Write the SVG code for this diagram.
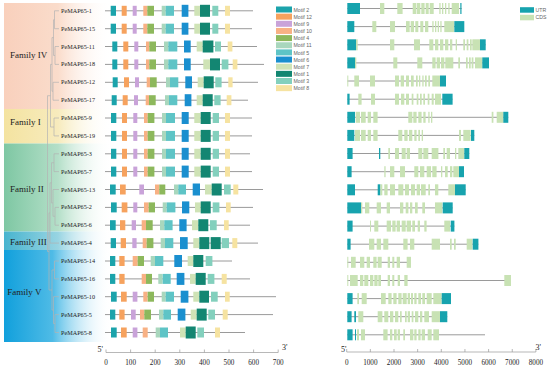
<svg xmlns="http://www.w3.org/2000/svg" width="550" height="373" viewBox="0 0 550 373">
<style>
.m1{fill:#138672}.m2{fill:#1ba3ab}.m3{fill:#83d0bd}.m4{fill:#8db85c}.m5{fill:#5ec4c6}.m6{fill:#1a8fcf}
.m7{fill:#cfe3b6}.m8{fill:#f6e3a1}.m9{fill:#c9a3d9}.m10{fill:#f8b184}.m11{fill:#a9d7bd}.m12{fill:#f6a25e}
.U{fill:#17a3ae}.C{fill:#c8e2b4}
.bb{stroke:#9a9a9a;stroke-width:1;fill:none}
.tree{stroke:#b3b3b3;stroke-width:0.7;fill:none}
.fam{font-family:"Liberation Serif","Times New Roman",serif;font-size:9px;fill:#222}
.gl{font-family:"Liberation Serif","Times New Roman",serif;font-size:6.2px;fill:#222}
.lg{font-family:"Liberation Sans",Arial,sans-serif;font-size:5.2px;fill:#666}
.ax{font-family:"Liberation Serif","Times New Roman",serif;font-size:7.2px;fill:#222;text-anchor:middle}
.pr{font-family:"Liberation Serif","Times New Roman",serif;font-size:8px;fill:#222}
.axl{stroke:#999;stroke-width:0.7;fill:none}
</style>
<defs>
<linearGradient id="gIV" gradientUnits="userSpaceOnUse" x1="4" y1="0" x2="112" y2="0"><stop offset="0" stop-color="#f9d0bc"/><stop offset="0.5" stop-color="#fadccb"/><stop offset="1" stop-color="#ffffff" stop-opacity="0"/></linearGradient>
<linearGradient id="gI" gradientUnits="userSpaceOnUse" x1="4" y1="0" x2="112" y2="0"><stop offset="0" stop-color="#f4e3a0"/><stop offset="0.5" stop-color="#f7ebbd"/><stop offset="1" stop-color="#ffffff" stop-opacity="0"/></linearGradient>
<linearGradient id="gII" gradientUnits="userSpaceOnUse" x1="4" y1="0" x2="112" y2="0"><stop offset="0" stop-color="#7ec7a3"/><stop offset="0.5" stop-color="#b4dfc8"/><stop offset="1" stop-color="#ffffff" stop-opacity="0"/></linearGradient>
<linearGradient id="gIII" gradientUnits="userSpaceOnUse" x1="4" y1="0" x2="112" y2="0"><stop offset="0" stop-color="#47b4cf"/><stop offset="0.5" stop-color="#98d4e2"/><stop offset="1" stop-color="#ffffff" stop-opacity="0"/></linearGradient>
<linearGradient id="gV" gradientUnits="userSpaceOnUse" x1="4" y1="0" x2="112" y2="0"><stop offset="0" stop-color="#11a0dc"/><stop offset="0.45" stop-color="#4fbbe6"/><stop offset="1" stop-color="#ffffff" stop-opacity="0"/></linearGradient>
</defs>
<rect width="550" height="373" fill="#ffffff"/>

<g id="family-IV"><rect x="4" y="3" width="108" height="106" fill="url(#gIV)"/><text class="fam" x="10" y="58.2">Family IV</text></g>
<g id="family-I"><rect x="4" y="109" width="108" height="34.5" fill="url(#gI)"/><text class="fam" x="10" y="125">Family I</text></g>
<g id="family-II"><rect x="4" y="143.5" width="108" height="88" fill="url(#gII)"/><text class="fam" x="10" y="191.5">Family II</text></g>
<g id="family-III"><rect x="4" y="231.5" width="108" height="18.5" fill="url(#gIII)"/><text class="fam" x="10" y="245">Family III</text></g>
<g id="family-V"><rect x="4" y="250" width="108" height="92" fill="url(#gV)"/><text class="fam" x="7.3" y="295">Family V</text></g>

<g id="connectors">
<path class="tree" d="M54.5 10.8H59M54.5 28.7H59M54.5 10.8V28.7M55 46.5H59M55 64.4H59M55 46.5V64.4M53.5 19.75H54.5M53.5 55.45H55M53.5 19.75V55.45M53 82.3H59M53 100.2H59M53 82.3V100.2M52 37.6H53.5M52 91.25H53M52 37.6V91.25M54 118H59M54 135.9H59M54 118V135.9M50.5 64.4H52M50.5 127H54M50.5 64.4V127M54 153.8H59M54 171.6H59M54 153.8V171.6M55 207.4H59M55 225.2H59M55 207.4V225.2M53 189.5H59M53 216.3H55M53 189.5V216.3M51.5 162.7H54M51.5 202.9H53M51.5 162.7V202.9M50 182.8H51.5M50 243.1H59M50 182.8V243.1M54.5 261H59M54.5 278.9H59M54.5 261V278.9M55 314.6H59M55 332.5H59M55 314.6V332.5M53.5 296.7H59M53.5 323.55H55M53.5 296.7V323.55M52 269.95H54.5M52 310.1H53.5M52 269.95V310.1M49 212.95H50M49 290H52M49 212.95V290M47.5 95.7H50.5M47.5 251.5H49M47.5 95.7V251.5"/>
</g>

<g id="motif-legend">
<rect class="m2" x="276" y="6.5" width="16" height="6"/><text class="lg" x="293.5" y="11.7">Motif 2</text>
<rect class="m12" x="276" y="13.65" width="16" height="6"/><text class="lg" x="293.5" y="18.85">Motif 12</text>
<rect class="m9" x="276" y="20.8" width="16" height="6"/><text class="lg" x="293.5" y="26">Motif 9</text>
<rect class="m10" x="276" y="27.95" width="16" height="6"/><text class="lg" x="293.5" y="33.15">Motif 10</text>
<rect class="m4" x="276" y="35.1" width="16" height="6"/><text class="lg" x="293.5" y="40.3">Motif 4</text>
<rect class="m11" x="276" y="42.25" width="16" height="6"/><text class="lg" x="293.5" y="47.45">Motif 11</text>
<rect class="m5" x="276" y="49.4" width="16" height="6"/><text class="lg" x="293.5" y="54.6">Motif 5</text>
<rect class="m6" x="276" y="56.55" width="16" height="6"/><text class="lg" x="293.5" y="61.75">Motif 6</text>
<rect class="m7" x="276" y="63.7" width="16" height="6"/><text class="lg" x="293.5" y="68.9">Motif 7</text>
<rect class="m1" x="276" y="70.85" width="16" height="6"/><text class="lg" x="293.5" y="76.05">Motif 1</text>
<rect class="m3" x="276" y="78" width="16" height="6"/><text class="lg" x="293.5" y="83.2">Motif 3</text>
<rect class="m8" x="276" y="85.15" width="16" height="6"/><text class="lg" x="293.5" y="90.35">Motif 8</text>
</g>
<g id="structure-legend">
<rect class="U" x="520" y="7.2" width="14" height="5.5"/><text class="lg" x="535.5" y="11.8">UTR</text>
<rect class="C" x="520" y="14.8" width="14" height="5.5"/><text class="lg" x="535.5" y="19.4">CDS</text>
</g>

<g id="gene-PeMAP65-1"><text class="gl" x="61" y="12.8">PeMAP65-1</text>
<g transform="translate(0,10.8)"><line class="bb" x1="105" y1="0" x2="253" y2="0"/>
<rect class="m2" x="110.7" y="-5" width="5.3" height="10"/><rect class="m12" x="121.7" y="-5" width="5" height="10"/><rect class="m9" x="132.7" y="-5" width="4" height="10"/><rect class="m10" x="143.3" y="-5" width="4" height="10"/><rect class="m4" x="147.3" y="-5" width="6.7" height="10"/><rect class="m11" x="161.7" y="-5" width="4" height="10"/><rect class="m5" x="165.7" y="-5" width="8.3" height="10"/><rect class="m6" x="181.7" y="-6" width="6.7" height="12"/><rect class="m7" x="194.3" y="-5" width="5.7" height="10"/><rect class="m1" x="200" y="-6" width="10" height="12"/><rect class="m3" x="212.3" y="-5" width="6" height="10"/><rect class="m8" x="225" y="-5" width="5" height="10"/></g>
<g transform="translate(0,8.5)"><line class="bb" x1="347.3" y1="0" x2="461.7" y2="0"/>
<rect class="U" x="347.3" y="-5.5" width="12.7" height="11"/><rect class="C" x="380" y="-5.5" width="4.3" height="11"/><rect class="C" x="397.3" y="-5.5" width="5.3" height="11"/><rect class="C" x="412.7" y="-5.5" width="3.7" height="11"/><rect class="C" x="417" y="-5.5" width="3.3" height="11"/><rect class="C" x="421.3" y="-5.5" width="3.3" height="11"/><rect class="C" x="425.7" y="-5.5" width="3" height="11"/><rect class="C" x="429.7" y="-5.5" width="4" height="11"/><rect class="C" x="439.3" y="-5.5" width="1.3" height="11"/><rect class="C" x="442" y="-5.5" width="1.3" height="11"/><rect class="C" x="445" y="-5.5" width="1.3" height="11"/><rect class="C" x="448.3" y="-5.5" width="1.3" height="11"/><rect class="C" x="451.7" y="-5.5" width="7.3" height="11"/><rect class="U" x="460.3" y="-5.5" width="1.2" height="11"/></g></g>

<g id="gene-PeMAP65-15"><text class="gl" x="61" y="30.7">PeMAP65-15</text>
<g transform="translate(0,28.7)"><line class="bb" x1="105" y1="0" x2="252" y2="0"/>
<rect class="m2" x="110.7" y="-5" width="5.3" height="10"/><rect class="m12" x="121.7" y="-5" width="5" height="10"/><rect class="m9" x="132.7" y="-5" width="4" height="10"/><rect class="m10" x="143.3" y="-5" width="4" height="10"/><rect class="m4" x="147.3" y="-5" width="6.7" height="10"/><rect class="m11" x="161.7" y="-5" width="4" height="10"/><rect class="m5" x="165.7" y="-5" width="8.3" height="10"/><rect class="m6" x="181.7" y="-6" width="6.7" height="12"/><rect class="m7" x="194.3" y="-5" width="5.7" height="10"/><rect class="m1" x="200" y="-6" width="10" height="12"/><rect class="m3" x="212.3" y="-5" width="6" height="10"/><rect class="m8" x="225" y="-5" width="5" height="10"/></g>
<g transform="translate(0,26.6)"><line class="bb" x1="347.3" y1="0" x2="464" y2="0"/>
<rect class="U" x="347.3" y="-5.5" width="7" height="11"/><rect class="C" x="372.3" y="-5.5" width="4" height="11"/><rect class="C" x="390" y="-5.5" width="5" height="11"/><rect class="C" x="406" y="-5.5" width="3.7" height="11"/><rect class="C" x="410.7" y="-5.5" width="3.3" height="11"/><rect class="C" x="415.3" y="-5.5" width="3" height="11"/><rect class="C" x="420.3" y="-5.5" width="3" height="11"/><rect class="C" x="425" y="-5.5" width="3.3" height="11"/><rect class="C" x="432.3" y="-5.5" width="1.3" height="11"/><rect class="C" x="435" y="-5.5" width="1.3" height="11"/><rect class="C" x="437.7" y="-5.5" width="1.3" height="11"/><rect class="C" x="440.3" y="-5.5" width="1.3" height="11"/><rect class="C" x="444.3" y="-5.5" width="9.7" height="11"/><rect class="U" x="454.3" y="-5.5" width="10" height="11"/></g></g>

<g id="gene-PeMAP65-11"><text class="gl" x="61" y="48.5">PeMAP65-11</text>
<g transform="translate(0,46.5)"><line class="bb" x1="105" y1="0" x2="257" y2="0"/>
<rect class="m2" x="112.3" y="-5" width="5" height="10"/><rect class="m12" x="123.3" y="-5" width="5" height="10"/><rect class="m9" x="134.3" y="-5" width="4" height="10"/><rect class="m10" x="146" y="-5" width="3.3" height="10"/><rect class="m4" x="149.3" y="-5" width="6.7" height="10"/><rect class="m11" x="164" y="-5" width="4.3" height="10"/><rect class="m5" x="168.3" y="-5" width="9" height="10"/><rect class="m6" x="184" y="-6" width="6.7" height="12"/><rect class="m7" x="196.7" y="-5" width="6" height="10"/><rect class="m1" x="202.7" y="-6" width="10.7" height="12"/><rect class="m3" x="215" y="-5" width="6" height="10"/><rect class="m8" x="227.7" y="-5" width="4.7" height="10"/></g>
<g transform="translate(0,44.8)"><line class="bb" x1="347.3" y1="0" x2="485.7" y2="0"/>
<rect class="U" x="347.3" y="-5.5" width="8.7" height="11"/><rect class="C" x="356" y="-5.5" width="1.7" height="11"/><rect class="C" x="390" y="-5.5" width="4.3" height="11"/><rect class="C" x="414" y="-5.5" width="6" height="11"/><rect class="C" x="429.3" y="-5.5" width="4" height="11"/><rect class="C" x="435" y="-5.5" width="3.3" height="11"/><rect class="C" x="440" y="-5.5" width="3.3" height="11"/><rect class="C" x="445" y="-5.5" width="3.3" height="11"/><rect class="C" x="450" y="-5.5" width="2.3" height="11"/><rect class="C" x="455.7" y="-5.5" width="1.3" height="11"/><rect class="C" x="463.3" y="-5.5" width="1.7" height="11"/><rect class="C" x="466.7" y="-5.5" width="1.7" height="11"/><rect class="C" x="470" y="-5.5" width="1.7" height="11"/><rect class="C" x="472.3" y="-5.5" width="7.7" height="11"/><rect class="U" x="480" y="-5.5" width="5.7" height="11"/></g></g>

<g id="gene-PeMAP65-18"><text class="gl" x="61" y="66.4">PeMAP65-18</text>
<g transform="translate(0,64.4)"><line class="bb" x1="105" y1="0" x2="264" y2="0"/>
<rect class="m2" x="112.3" y="-5" width="5" height="10"/><rect class="m12" x="123.3" y="-5" width="5" height="10"/><rect class="m9" x="134.3" y="-5" width="4" height="10"/><rect class="m10" x="146" y="-5" width="3.3" height="10"/><rect class="m4" x="149.3" y="-5" width="6.7" height="10"/><rect class="m11" x="164" y="-5" width="4.3" height="10"/><rect class="m5" x="168.3" y="-5" width="9" height="10"/><rect class="m6" x="184" y="-6" width="6.7" height="12"/><rect class="m7" x="203.3" y="-5" width="6.7" height="10"/><rect class="m1" x="210" y="-6" width="10" height="12"/><rect class="m3" x="221.7" y="-5" width="6.7" height="10"/><rect class="m8" x="232.7" y="-5" width="4.7" height="10"/></g>
<g transform="translate(0,62.9)"><line class="bb" x1="347.3" y1="0" x2="489" y2="0"/>
<rect class="U" x="347.3" y="-5.5" width="7.7" height="11"/><rect class="C" x="355" y="-5.5" width="1.3" height="11"/><rect class="C" x="393.3" y="-5.5" width="4" height="11"/><rect class="C" x="417.3" y="-5.5" width="5" height="11"/><rect class="C" x="432.3" y="-5.5" width="3.3" height="11"/><rect class="C" x="436.7" y="-5.5" width="3.3" height="11"/><rect class="C" x="441" y="-5.5" width="3.3" height="11"/><rect class="C" x="445.3" y="-5.5" width="8" height="11"/><rect class="C" x="458.3" y="-5.5" width="1.7" height="11"/><rect class="C" x="466" y="-5.5" width="1.7" height="11"/><rect class="C" x="469" y="-5.5" width="1.7" height="11"/><rect class="C" x="471.7" y="-5.5" width="1.7" height="11"/><rect class="C" x="475" y="-5.5" width="7.3" height="11"/><rect class="U" x="482.3" y="-5.5" width="6.7" height="11"/></g></g>

<g id="gene-PeMAP65-12"><text class="gl" x="61" y="84.3">PeMAP65-12</text>
<g transform="translate(0,82.3)"><line class="bb" x1="105" y1="0" x2="258" y2="0"/>
<rect class="m2" x="112.7" y="-5" width="5" height="10"/><rect class="m12" x="124" y="-5" width="5" height="10"/><rect class="m9" x="135" y="-5" width="4" height="10"/><rect class="m10" x="146.7" y="-5" width="3.3" height="10"/><rect class="m4" x="150" y="-5" width="6.7" height="10"/><rect class="m11" x="166" y="-5" width="4" height="10"/><rect class="m5" x="170" y="-5" width="8.3" height="10"/><rect class="m6" x="185.3" y="-6" width="6.7" height="12"/><rect class="m7" x="197.7" y="-5" width="6" height="10"/><rect class="m1" x="203.7" y="-6" width="10" height="12"/><rect class="m3" x="215.3" y="-5" width="6.3" height="10"/><rect class="m8" x="228.3" y="-5" width="4.3" height="10"/></g>
<g transform="translate(0,81)"><line class="bb" x1="347.3" y1="0" x2="446" y2="0"/>
<rect class="C" x="347.3" y="-5.5" width="1" height="11"/><rect class="C" x="354.3" y="-5.5" width="4.7" height="11"/><rect class="C" x="370" y="-5.5" width="5" height="11"/><rect class="C" x="395" y="-5.5" width="4" height="11"/><rect class="C" x="400.7" y="-5.5" width="3.3" height="11"/><rect class="C" x="406" y="-5.5" width="3" height="11"/><rect class="C" x="411" y="-5.5" width="2.7" height="11"/><rect class="C" x="416" y="-5.5" width="1.7" height="11"/><rect class="C" x="419" y="-5.5" width="1.3" height="11"/><rect class="C" x="422.3" y="-5.5" width="1.3" height="11"/><rect class="C" x="425" y="-5.5" width="1.7" height="11"/><rect class="C" x="428.3" y="-5.5" width="1.7" height="11"/><rect class="C" x="432.3" y="-5.5" width="7.7" height="11"/><rect class="U" x="440" y="-5.5" width="6" height="11"/></g></g>

<g id="gene-PeMAP65-17"><text class="gl" x="61" y="102.2">PeMAP65-17</text>
<g transform="translate(0,100.2)"><line class="bb" x1="105" y1="0" x2="248" y2="0"/>
<rect class="m2" x="111.7" y="-5" width="5" height="10"/><rect class="m12" x="122.7" y="-5" width="5" height="10"/><rect class="m9" x="134" y="-5" width="4" height="10"/><rect class="m10" x="145.7" y="-5" width="3.3" height="10"/><rect class="m4" x="149" y="-5" width="6.7" height="10"/><rect class="m11" x="165" y="-5" width="4" height="10"/><rect class="m5" x="169" y="-5" width="8.3" height="10"/><rect class="m6" x="184.7" y="-6" width="6.7" height="12"/><rect class="m7" x="196.7" y="-5" width="6" height="10"/><rect class="m1" x="202.7" y="-6" width="10" height="12"/><rect class="m3" x="214.3" y="-5" width="6.3" height="10"/><rect class="m8" x="226.7" y="-5" width="4.7" height="10"/></g>
<g transform="translate(0,99.2)"><line class="bb" x1="347.3" y1="0" x2="452.6" y2="0"/>
<rect class="U" x="347.3" y="-5.5" width="2.3" height="11"/><rect class="C" x="358.3" y="-5.5" width="3.3" height="11"/><rect class="C" x="371" y="-5.5" width="4" height="11"/><rect class="C" x="395" y="-5.5" width="4" height="11"/><rect class="C" x="401" y="-5.5" width="3.3" height="11"/><rect class="C" x="406" y="-5.5" width="3" height="11"/><rect class="C" x="411.7" y="-5.5" width="1.7" height="11"/><rect class="C" x="416.7" y="-5.5" width="1.7" height="11"/><rect class="C" x="420" y="-5.5" width="1.7" height="11"/><rect class="C" x="423.3" y="-5.5" width="1.7" height="11"/><rect class="C" x="427.7" y="-5.5" width="1.7" height="11"/><rect class="C" x="431.7" y="-5.5" width="2" height="11"/><rect class="C" x="435" y="-5.5" width="6" height="11"/><rect class="U" x="442.3" y="-5.5" width="10.3" height="11"/></g></g>

<g id="gene-PeMAP65-9"><text class="gl" x="61" y="120">PeMAP65-9</text>
<g transform="translate(0,118)"><line class="bb" x1="105" y1="0" x2="252" y2="0"/>
<rect class="m2" x="111" y="-5" width="5.3" height="10"/><rect class="m12" x="122" y="-5" width="5" height="10"/><rect class="m9" x="133.3" y="-5" width="4" height="10"/><rect class="m10" x="144" y="-5" width="3.7" height="10"/><rect class="m4" x="147.7" y="-5" width="6.7" height="10"/><rect class="m11" x="162" y="-5" width="4" height="10"/><rect class="m5" x="166" y="-5" width="9" height="10"/><rect class="m6" x="181.7" y="-6" width="7" height="12"/><rect class="m7" x="194.3" y="-5" width="6.3" height="10"/><rect class="m1" x="200.7" y="-6" width="10" height="12"/><rect class="m3" x="212.7" y="-5" width="6.3" height="10"/><rect class="m8" x="225" y="-5" width="5" height="10"/></g>
<g transform="translate(0,117.3)"><line class="bb" x1="347.3" y1="0" x2="508.3" y2="0"/>
<rect class="U" x="347.3" y="-5.5" width="7.7" height="11"/><rect class="C" x="355.7" y="-5.5" width="4.3" height="11"/><rect class="C" x="361" y="-5.5" width="4.7" height="11"/><rect class="C" x="367.7" y="-5.5" width="3.3" height="11"/><rect class="C" x="373.3" y="-5.5" width="4.3" height="11"/><rect class="C" x="408.3" y="-5.5" width="4" height="11"/><rect class="C" x="413.3" y="-5.5" width="3.3" height="11"/><rect class="C" x="418.3" y="-5.5" width="3.3" height="11"/><rect class="C" x="423.3" y="-5.5" width="2.3" height="11"/><rect class="C" x="428.3" y="-5.5" width="1.3" height="11"/><rect class="C" x="431" y="-5.5" width="1.3" height="11"/><rect class="C" x="491.7" y="-5.5" width="1.7" height="11"/><rect class="C" x="496.7" y="-5.5" width="6.7" height="11"/><rect class="U" x="503.3" y="-5.5" width="5" height="11"/></g></g>

<g id="gene-PeMAP65-19"><text class="gl" x="61" y="137.9">PeMAP65-19</text>
<g transform="translate(0,135.9)"><line class="bb" x1="105" y1="0" x2="252" y2="0"/>
<rect class="m2" x="111" y="-5" width="5.3" height="10"/><rect class="m12" x="122" y="-5" width="5" height="10"/><rect class="m9" x="133.3" y="-5" width="4" height="10"/><rect class="m10" x="144" y="-5" width="3.7" height="10"/><rect class="m4" x="147.7" y="-5" width="6.7" height="10"/><rect class="m11" x="162" y="-5" width="4" height="10"/><rect class="m5" x="166" y="-5" width="9" height="10"/><rect class="m6" x="181.7" y="-6" width="7" height="12"/><rect class="m7" x="194.3" y="-5" width="6.3" height="10"/><rect class="m1" x="200.7" y="-6" width="10" height="12"/><rect class="m3" x="212.7" y="-5" width="6.3" height="10"/><rect class="m8" x="225" y="-5" width="5" height="10"/></g>
<g transform="translate(0,135.4)"><line class="bb" x1="347.3" y1="0" x2="474.3" y2="0"/>
<rect class="U" x="347.3" y="-5.5" width="7" height="11"/><rect class="C" x="355" y="-5.5" width="5" height="11"/><rect class="C" x="361" y="-5.5" width="4.7" height="11"/><rect class="C" x="367.7" y="-5.5" width="3.3" height="11"/><rect class="C" x="373.3" y="-5.5" width="4.3" height="11"/><rect class="C" x="398.3" y="-5.5" width="4" height="11"/><rect class="C" x="404.3" y="-5.5" width="3.3" height="11"/><rect class="C" x="409" y="-5.5" width="3.3" height="11"/><rect class="C" x="414.3" y="-5.5" width="2.3" height="11"/><rect class="C" x="418.3" y="-5.5" width="1.7" height="11"/><rect class="C" x="421.7" y="-5.5" width="1.3" height="11"/><rect class="C" x="459" y="-5.5" width="2" height="11"/><rect class="C" x="463.3" y="-5.5" width="7.3" height="11"/><rect class="U" x="471" y="-5.5" width="3.3" height="11"/></g></g>

<g id="gene-PeMAP65-3"><text class="gl" x="61" y="155.8">PeMAP65-3</text>
<g transform="translate(0,153.8)"><line class="bb" x1="105" y1="0" x2="250" y2="0"/>
<rect class="m2" x="111" y="-5" width="5.3" height="10"/><rect class="m12" x="122" y="-5" width="5" height="10"/><rect class="m9" x="133.3" y="-5" width="4" height="10"/><rect class="m10" x="144" y="-5" width="3.7" height="10"/><rect class="m4" x="147.7" y="-5" width="6.7" height="10"/><rect class="m11" x="162" y="-5" width="4" height="10"/><rect class="m5" x="166" y="-5" width="9" height="10"/><rect class="m6" x="181.7" y="-6" width="7" height="12"/><rect class="m7" x="194.3" y="-5" width="6.3" height="10"/><rect class="m1" x="200.7" y="-6" width="10" height="12"/><rect class="m3" x="212.7" y="-5" width="6.3" height="10"/><rect class="m8" x="225" y="-5" width="5" height="10"/></g>
<g transform="translate(0,153.5)"><line class="bb" x1="347.3" y1="0" x2="469.3" y2="0"/>
<rect class="U" x="347.3" y="-5.5" width="5.3" height="11"/><rect class="U" x="379" y="-5.5" width="1.3" height="11"/><rect class="C" x="388.3" y="-5.5" width="1.7" height="11"/><rect class="C" x="395" y="-5.5" width="4" height="11"/><rect class="C" x="401.7" y="-5.5" width="4" height="11"/><rect class="C" x="406.7" y="-5.5" width="3.3" height="11"/><rect class="C" x="418.3" y="-5.5" width="4" height="11"/><rect class="C" x="423.3" y="-5.5" width="5" height="11"/><rect class="C" x="431.7" y="-5.5" width="6.7" height="11"/><rect class="C" x="443.3" y="-5.5" width="1.7" height="11"/><rect class="C" x="446.7" y="-5.5" width="3.3" height="11"/><rect class="C" x="455" y="-5.5" width="1.3" height="11"/><rect class="C" x="458.3" y="-5.5" width="6" height="11"/><rect class="U" x="464.3" y="-5.5" width="5" height="11"/></g></g>

<g id="gene-PeMAP65-7"><text class="gl" x="61" y="173.6">PeMAP65-7</text>
<g transform="translate(0,171.6)"><line class="bb" x1="105" y1="0" x2="252" y2="0"/>
<rect class="m2" x="111" y="-5" width="5.3" height="10"/><rect class="m12" x="122" y="-5" width="5" height="10"/><rect class="m9" x="133.3" y="-5" width="4" height="10"/><rect class="m10" x="144" y="-5" width="3.7" height="10"/><rect class="m4" x="147.7" y="-5" width="6.7" height="10"/><rect class="m11" x="162" y="-5" width="4" height="10"/><rect class="m5" x="166" y="-5" width="9" height="10"/><rect class="m6" x="181.7" y="-6" width="7" height="12"/><rect class="m7" x="194.3" y="-5" width="6.3" height="10"/><rect class="m1" x="200.7" y="-6" width="10" height="12"/><rect class="m3" x="212.7" y="-5" width="6.3" height="10"/><rect class="m8" x="225" y="-5" width="5" height="10"/></g>
<g transform="translate(0,171.7)"><line class="bb" x1="347.3" y1="0" x2="464" y2="0"/>
<rect class="U" x="347.3" y="-5.5" width="4.3" height="11"/><rect class="C" x="384.3" y="-5.5" width="1.3" height="11"/><rect class="C" x="390" y="-5.5" width="4.3" height="11"/><rect class="C" x="400" y="-5.5" width="5" height="11"/><rect class="C" x="414.3" y="-5.5" width="4" height="11"/><rect class="C" x="420" y="-5.5" width="4.3" height="11"/><rect class="C" x="426.7" y="-5.5" width="4.3" height="11"/><rect class="C" x="432.3" y="-5.5" width="4.3" height="11"/><rect class="C" x="441" y="-5.5" width="1.3" height="11"/><rect class="C" x="445" y="-5.5" width="2.7" height="11"/><rect class="C" x="450" y="-5.5" width="2.3" height="11"/><rect class="C" x="453.3" y="-5.5" width="5.7" height="11"/><rect class="U" x="459" y="-5.5" width="5" height="11"/></g></g>

<g id="gene-PeMAP65-13"><text class="gl" x="61" y="191.5">PeMAP65-13</text>
<g transform="translate(0,189.5)"><line class="bb" x1="105" y1="0" x2="263" y2="0"/>
<rect class="m2" x="110" y="-5" width="5.7" height="10"/><rect class="m12" x="120" y="-5" width="5.7" height="10"/><rect class="m9" x="139.3" y="-5" width="4.7" height="10"/><rect class="m10" x="155" y="-5" width="4.3" height="10"/><rect class="m4" x="159.3" y="-5" width="6" height="10"/><rect class="m11" x="174" y="-5" width="4.3" height="10"/><rect class="m5" x="178.3" y="-5" width="7.7" height="10"/><rect class="m6" x="192.7" y="-6" width="7.3" height="12"/><rect class="m7" x="205" y="-5" width="6.7" height="10"/><rect class="m1" x="211.7" y="-6" width="10" height="12"/><rect class="m3" x="224" y="-5" width="6.7" height="10"/><rect class="m8" x="233.3" y="-5" width="5" height="10"/></g>
<g transform="translate(0,189.8)"><line class="bb" x1="347.3" y1="0" x2="465.7" y2="0"/>
<rect class="U" x="347.3" y="-5.5" width="7.7" height="11"/><rect class="U" x="377.7" y="-5.5" width="2.7" height="11"/><rect class="C" x="380.3" y="-5.5" width="2" height="11"/><rect class="C" x="384.3" y="-5.5" width="3.3" height="11"/><rect class="C" x="390" y="-5.5" width="5" height="11"/><rect class="C" x="398.3" y="-5.5" width="5" height="11"/><rect class="C" x="405" y="-5.5" width="4" height="11"/><rect class="C" x="411" y="-5.5" width="4" height="11"/><rect class="C" x="416.7" y="-5.5" width="3.3" height="11"/><rect class="C" x="421" y="-5.5" width="4.7" height="11"/><rect class="C" x="428.3" y="-5.5" width="1.7" height="11"/><rect class="C" x="435" y="-5.5" width="3.3" height="11"/><rect class="C" x="448.3" y="-5.5" width="6.7" height="11"/><rect class="U" x="455" y="-5.5" width="10.7" height="11"/></g></g>

<g id="gene-PeMAP65-2"><text class="gl" x="61" y="209.4">PeMAP65-2</text>
<g transform="translate(0,207.4)"><line class="bb" x1="105" y1="0" x2="253" y2="0"/>
<rect class="m2" x="111" y="-5" width="5.7" height="10"/><rect class="m12" x="121.7" y="-5" width="5.7" height="10"/><rect class="m9" x="133.3" y="-5" width="4" height="10"/><rect class="m10" x="144" y="-5" width="4.7" height="10"/><rect class="m4" x="148.7" y="-5" width="6.3" height="10"/><rect class="m11" x="162.7" y="-5" width="4" height="10"/><rect class="m5" x="166.7" y="-5" width="8.7" height="10"/><rect class="m6" x="182" y="-6" width="7.3" height="12"/><rect class="m7" x="195" y="-5" width="5.7" height="10"/><rect class="m1" x="200.7" y="-6" width="10" height="12"/><rect class="m3" x="212.7" y="-5" width="6.7" height="10"/><rect class="m8" x="226" y="-5" width="4.7" height="10"/></g>
<g transform="translate(0,207.9)"><line class="bb" x1="347.3" y1="0" x2="452.7" y2="0"/>
<rect class="U" x="347.3" y="-5.5" width="13.7" height="11"/><rect class="C" x="361" y="-5.5" width="1.3" height="11"/><rect class="C" x="365" y="-5.5" width="4.3" height="11"/><rect class="C" x="376.7" y="-5.5" width="4.3" height="11"/><rect class="C" x="386.7" y="-5.5" width="3.3" height="11"/><rect class="C" x="400" y="-5.5" width="3.3" height="11"/><rect class="C" x="405.7" y="-5.5" width="2.7" height="11"/><rect class="C" x="410" y="-5.5" width="2.3" height="11"/><rect class="C" x="415" y="-5.5" width="2.7" height="11"/><rect class="C" x="422.3" y="-5.5" width="2.7" height="11"/><rect class="C" x="435" y="-5.5" width="7.3" height="11"/><rect class="U" x="442.7" y="-5.5" width="10" height="11"/></g></g>

<g id="gene-PeMAP65-6"><text class="gl" x="61" y="227.2">PeMAP65-6</text>
<g transform="translate(0,225.2)"><line class="bb" x1="105" y1="0" x2="250" y2="0"/>
<rect class="m2" x="110" y="-5" width="5.7" height="10"/><rect class="m12" x="120" y="-5" width="5.3" height="10"/><rect class="m9" x="131.7" y="-5" width="4.3" height="10"/><rect class="m10" x="141.7" y="-5" width="4.3" height="10"/><rect class="m4" x="146" y="-5" width="6.7" height="10"/><rect class="m11" x="160" y="-5" width="4.3" height="10"/><rect class="m5" x="164.3" y="-5" width="8.3" height="10"/><rect class="m6" x="179.3" y="-6" width="7.3" height="12"/><rect class="m7" x="192" y="-5" width="6.3" height="10"/><rect class="m1" x="198.3" y="-6" width="10" height="12"/><rect class="m3" x="210" y="-5" width="6.7" height="10"/><rect class="m8" x="224" y="-5" width="4.7" height="10"/></g>
<g transform="translate(0,226.1)"><line class="bb" x1="347.3" y1="0" x2="454.4" y2="0"/>
<rect class="U" x="347.3" y="-5.5" width="5.3" height="11"/><rect class="C" x="370" y="-5.5" width="1" height="11"/><rect class="C" x="374.3" y="-5.5" width="4" height="11"/><rect class="C" x="386.7" y="-5.5" width="4.3" height="11"/><rect class="C" x="392.3" y="-5.5" width="3.3" height="11"/><rect class="C" x="396.7" y="-5.5" width="3.3" height="11"/><rect class="C" x="401.7" y="-5.5" width="4" height="11"/><rect class="C" x="406.7" y="-5.5" width="4.3" height="11"/><rect class="C" x="412.3" y="-5.5" width="2.7" height="11"/><rect class="C" x="417.7" y="-5.5" width="2.3" height="11"/><rect class="C" x="424.3" y="-5.5" width="2.3" height="11"/><rect class="C" x="444.3" y="-5.5" width="5.7" height="11"/><rect class="U" x="450.7" y="-5.5" width="3.7" height="11"/></g></g>

<g id="gene-PeMAP65-4"><text class="gl" x="61" y="245.1">PeMAP65-4</text>
<g transform="translate(0,243.1)"><line class="bb" x1="105" y1="0" x2="258" y2="0"/>
<rect class="m2" x="110.7" y="-5" width="5.3" height="10"/><rect class="m12" x="120.7" y="-5" width="5.3" height="10"/><rect class="m9" x="132.3" y="-5" width="4.3" height="10"/><rect class="m10" x="142.7" y="-5" width="4" height="10"/><rect class="m4" x="146.7" y="-5" width="6.7" height="10"/><rect class="m11" x="160.7" y="-5" width="4.3" height="10"/><rect class="m5" x="165" y="-5" width="8.3" height="10"/><rect class="m6" x="180" y="-6" width="7.7" height="12"/><rect class="m7" x="193.3" y="-5" width="6" height="10"/><rect class="m1" x="199.3" y="-6" width="10" height="12"/><rect class="m1" x="210.7" y="-6" width="10" height="12"/><rect class="m3" x="221.7" y="-5" width="7.3" height="10"/><rect class="m8" x="232.3" y="-5" width="5" height="10"/></g>
<g transform="translate(0,244.2)"><line class="bb" x1="347.3" y1="0" x2="478.4" y2="0"/>
<rect class="U" x="347.3" y="-5.5" width="3.3" height="11"/><rect class="C" x="369" y="-5.5" width="5.3" height="11"/><rect class="C" x="376.7" y="-5.5" width="4.3" height="11"/><rect class="C" x="383.3" y="-5.5" width="5" height="11"/><rect class="C" x="403.3" y="-5.5" width="4.3" height="11"/><rect class="C" x="410" y="-5.5" width="4.3" height="11"/><rect class="C" x="431.7" y="-5.5" width="8.3" height="11"/><rect class="C" x="450" y="-5.5" width="1.7" height="11"/><rect class="C" x="454" y="-5.5" width="1.7" height="11"/><rect class="C" x="466.7" y="-5.5" width="5.7" height="11"/><rect class="U" x="472.7" y="-5.5" width="5.7" height="11"/></g></g>

<g id="gene-PeMAP65-14"><text class="gl" x="61" y="263">PeMAP65-14</text>
<g transform="translate(0,261)"><line class="bb" x1="105" y1="0" x2="232" y2="0"/>
<rect class="m2" x="110" y="-5" width="5.3" height="10"/><rect class="m12" x="119.3" y="-5" width="5.3" height="10"/><rect class="m10" x="132.7" y="-5" width="5" height="10"/><rect class="m4" x="137.7" y="-5" width="6.3" height="10"/><rect class="m11" x="150.7" y="-5" width="4.3" height="10"/><rect class="m5" x="155" y="-5" width="8.3" height="10"/><rect class="m6" x="174.3" y="-6" width="7.7" height="12"/><rect class="m7" x="187.7" y="-5" width="5.7" height="10"/><rect class="m1" x="193.3" y="-6" width="10" height="12"/><rect class="m3" x="205.7" y="-5" width="6.7" height="10"/></g>
<g transform="translate(0,262.3)"><line class="bb" x1="347.3" y1="0" x2="411" y2="0"/>
<rect class="C" x="347.3" y="-5.5" width="1" height="11"/><rect class="C" x="351" y="-5.5" width="4.7" height="11"/><rect class="C" x="360" y="-5.5" width="4.3" height="11"/><rect class="C" x="366.7" y="-5.5" width="3.3" height="11"/><rect class="C" x="373.3" y="-5.5" width="3.3" height="11"/><rect class="C" x="377.7" y="-5.5" width="4" height="11"/><rect class="C" x="387.7" y="-5.5" width="2.3" height="11"/><rect class="C" x="392.3" y="-5.5" width="2" height="11"/><rect class="C" x="396.7" y="-5.5" width="3.3" height="11"/><rect class="C" x="406.7" y="-5.5" width="4.3" height="11"/></g></g>

<g id="gene-PeMAP65-16"><text class="gl" x="61" y="280.9">PeMAP65-16</text>
<g transform="translate(0,278.9)"><line class="bb" x1="105" y1="0" x2="250" y2="0"/>
<rect class="m2" x="110" y="-5" width="5.3" height="10"/><rect class="m12" x="119.3" y="-5" width="5.3" height="10"/><rect class="m10" x="141.7" y="-5" width="4.3" height="10"/><rect class="m4" x="146" y="-5" width="6" height="10"/><rect class="m11" x="158.3" y="-5" width="4.3" height="10"/><rect class="m5" x="162.7" y="-5" width="8" height="10"/><rect class="m6" x="176.7" y="-6" width="7.7" height="12"/><rect class="m7" x="190" y="-5" width="5.7" height="10"/><rect class="m1" x="195.7" y="-6" width="10" height="12"/><rect class="m3" x="207.7" y="-5" width="6.7" height="10"/><rect class="m8" x="221.7" y="-5" width="5" height="10"/></g>
<g transform="translate(0,280.5)"><line class="bb" x1="347.3" y1="0" x2="511" y2="0"/>
<rect class="C" x="347.3" y="-5.5" width="1" height="11"/><rect class="C" x="350" y="-5.5" width="7.7" height="11"/><rect class="C" x="360" y="-5.5" width="3.3" height="11"/><rect class="C" x="364.3" y="-5.5" width="4" height="11"/><rect class="C" x="370" y="-5.5" width="3.3" height="11"/><rect class="C" x="374.3" y="-5.5" width="3.3" height="11"/><rect class="C" x="378.3" y="-5.5" width="2.7" height="11"/><rect class="C" x="387.7" y="-5.5" width="2.3" height="11"/><rect class="C" x="392.3" y="-5.5" width="2" height="11"/><rect class="C" x="397.7" y="-5.5" width="2.3" height="11"/><rect class="C" x="404.3" y="-5.5" width="3.3" height="11"/><rect class="C" x="504.3" y="-5.5" width="6.7" height="11"/></g></g>

<g id="gene-PeMAP65-10"><text class="gl" x="61" y="298.7">PeMAP65-10</text>
<g transform="translate(0,296.7)"><line class="bb" x1="105" y1="0" x2="276" y2="0"/>
<rect class="m2" x="111" y="-5" width="5.7" height="10"/><rect class="m12" x="121" y="-5" width="5.7" height="10"/><rect class="m9" x="132.7" y="-5" width="4.7" height="10"/><rect class="m10" x="143.3" y="-5" width="4.3" height="10"/><rect class="m4" x="147.7" y="-5" width="6.3" height="10"/><rect class="m11" x="161.7" y="-5" width="4" height="10"/><rect class="m5" x="165.7" y="-5" width="8.3" height="10"/><rect class="m6" x="180.7" y="-6" width="7.7" height="12"/><rect class="m7" x="193.3" y="-5" width="6" height="10"/><rect class="m1" x="199.3" y="-6" width="9.7" height="12"/><rect class="m3" x="211" y="-5" width="6.7" height="10"/><rect class="m8" x="225" y="-5" width="4.7" height="10"/></g>
<g transform="translate(0,298.6)"><line class="bb" x1="347.3" y1="0" x2="451" y2="0"/>
<rect class="U" x="347.3" y="-5.5" width="5.3" height="11"/><rect class="C" x="357.3" y="-5.5" width="1.7" height="11"/><rect class="C" x="361.7" y="-5.5" width="5" height="11"/><rect class="C" x="381" y="-5.5" width="4.7" height="11"/><rect class="C" x="388.3" y="-5.5" width="3.3" height="11"/><rect class="C" x="393.3" y="-5.5" width="3.3" height="11"/><rect class="C" x="398.3" y="-5.5" width="3.3" height="11"/><rect class="C" x="402.7" y="-5.5" width="4" height="11"/><rect class="C" x="407.7" y="-5.5" width="2.3" height="11"/><rect class="C" x="411" y="-5.5" width="2" height="11"/><rect class="C" x="414.3" y="-5.5" width="2.3" height="11"/><rect class="C" x="418.3" y="-5.5" width="2.7" height="11"/><rect class="C" x="422.3" y="-5.5" width="2.7" height="11"/><rect class="C" x="426.7" y="-5.5" width="5" height="11"/><rect class="C" x="433.3" y="-5.5" width="8.3" height="11"/><rect class="U" x="441.7" y="-5.5" width="9.3" height="11"/></g></g>

<g id="gene-PeMAP65-5"><text class="gl" x="61" y="316.6">PeMAP65-5</text>
<g transform="translate(0,314.6)"><line class="bb" x1="105" y1="0" x2="273" y2="0"/>
<rect class="m2" x="110" y="-5" width="5.3" height="10"/><rect class="m12" x="119.3" y="-5" width="5.3" height="10"/><rect class="m9" x="131" y="-5" width="4.7" height="10"/><rect class="m10" x="140" y="-5" width="4.3" height="10"/><rect class="m4" x="144.3" y="-5" width="6.7" height="10"/><rect class="m11" x="159" y="-5" width="4.3" height="10"/><rect class="m5" x="163.3" y="-5" width="7.7" height="10"/><rect class="m6" x="177.7" y="-6" width="7.7" height="12"/><rect class="m7" x="190.7" y="-5" width="6" height="10"/><rect class="m1" x="196.7" y="-6" width="10" height="12"/><rect class="m3" x="208.3" y="-5" width="6.7" height="10"/><rect class="m8" x="222.7" y="-5" width="5" height="10"/></g>
<g transform="translate(0,316.7)"><line class="bb" x1="347.3" y1="0" x2="447.3" y2="0"/>
<rect class="U" x="347.3" y="-5.5" width="4.3" height="11"/><rect class="U" x="354.3" y="-5.5" width="1.7" height="11"/><rect class="C" x="358.3" y="-5.5" width="5" height="11"/><rect class="C" x="377.7" y="-5.5" width="4.7" height="11"/><rect class="C" x="384.3" y="-5.5" width="4" height="11"/><rect class="C" x="390" y="-5.5" width="3.3" height="11"/><rect class="C" x="395" y="-5.5" width="3.3" height="11"/><rect class="C" x="400" y="-5.5" width="1.7" height="11"/><rect class="C" x="405" y="-5.5" width="1.7" height="11"/><rect class="C" x="407.7" y="-5.5" width="2.3" height="11"/><rect class="C" x="411.7" y="-5.5" width="1.7" height="11"/><rect class="C" x="415" y="-5.5" width="3.3" height="11"/><rect class="C" x="420" y="-5.5" width="2.3" height="11"/><rect class="C" x="424.3" y="-5.5" width="4.7" height="11"/><rect class="C" x="431.7" y="-5.5" width="8.3" height="11"/><rect class="U" x="440" y="-5.5" width="7.3" height="11"/></g></g>

<g id="gene-PeMAP65-8"><text class="gl" x="61" y="334.5">PeMAP65-8</text>
<g transform="translate(0,332.5)"><line class="bb" x1="105" y1="0" x2="245" y2="0"/>
<rect class="m2" x="111" y="-5" width="5.7" height="10"/><rect class="m12" x="121" y="-5" width="5.7" height="10"/><rect class="m9" x="132.7" y="-5" width="4.7" height="10"/><rect class="m10" x="142.7" y="-5" width="5" height="10"/><rect class="m11" x="155.7" y="-5" width="4.3" height="10"/><rect class="m5" x="160" y="-5" width="8" height="10"/><rect class="m7" x="180" y="-5" width="5.7" height="10"/><rect class="m1" x="185.7" y="-6" width="10" height="12"/><rect class="m3" x="197.3" y="-5" width="6.7" height="10"/><rect class="m8" x="215" y="-5" width="5" height="10"/></g>
<g transform="translate(0,334.8)"><line class="bb" x1="347.3" y1="0" x2="485" y2="0"/>
<rect class="U" x="347.3" y="-5.5" width="5.3" height="11"/><rect class="U" x="355" y="-5.5" width="1" height="11"/><rect class="C" x="357" y="-5.5" width="2" height="11"/><rect class="C" x="361" y="-5.5" width="4" height="11"/><rect class="C" x="383.3" y="-5.5" width="4.3" height="11"/><rect class="C" x="390" y="-5.5" width="2.3" height="11"/><rect class="C" x="394" y="-5.5" width="2.7" height="11"/><rect class="C" x="397.7" y="-5.5" width="2.3" height="11"/><rect class="C" x="403.3" y="-5.5" width="1.7" height="11"/><rect class="C" x="410" y="-5.5" width="3.3" height="11"/><rect class="C" x="414.3" y="-5.5" width="2.3" height="11"/><rect class="C" x="418.3" y="-5.5" width="2.3" height="11"/><rect class="C" x="421.7" y="-5.5" width="3.3" height="11"/><rect class="C" x="427.7" y="-5.5" width="4" height="11"/><rect class="C" x="433.3" y="-5.5" width="5.7" height="11"/></g></g>

<g id="axis-motif">
<path class="axl" d="M106 352.5H278.2M106 352.5V349.5M130.6 352.5V349.5M155.2 352.5V349.5M179.8 352.5V349.5M204.4 352.5V349.5M229 352.5V349.5M253.6 352.5V349.5M278.2 352.5V349.5"/>
<text class="pr" x="97.5" y="352">5'</text>
<text class="pr" x="282" y="350">3'</text>
<text class="ax" x="106" y="365">0</text><text class="ax" x="130.6" y="365">100</text><text class="ax" x="155.2" y="365">200</text><text class="ax" x="179.8" y="365">300</text><text class="ax" x="204.4" y="365">400</text><text class="ax" x="229" y="365">500</text><text class="ax" x="253.6" y="365">600</text><text class="ax" x="278.2" y="365">700</text>
</g>
<g id="axis-structure">
<path class="axl" d="M346.7 352H535.9M346.7 352V349M370.35 352V349M394 352V349M417.65 352V349M441.3 352V349M464.95 352V349M488.6 352V349M512.25 352V349M535.9 352V349"/>
<text class="pr" x="341" y="351.5">5'</text>
<text class="pr" x="535.5" y="350">3'</text>
<text class="ax" x="346.7" y="365">0</text><text class="ax" x="370.35" y="365">1000</text><text class="ax" x="394" y="365">2000</text><text class="ax" x="417.65" y="365">3000</text><text class="ax" x="441.3" y="365">4000</text><text class="ax" x="464.95" y="365">5000</text><text class="ax" x="488.6" y="365">6000</text><text class="ax" x="512.25" y="365">7000</text><text class="ax" x="535.9" y="365">8000</text>
</g>
</svg>
